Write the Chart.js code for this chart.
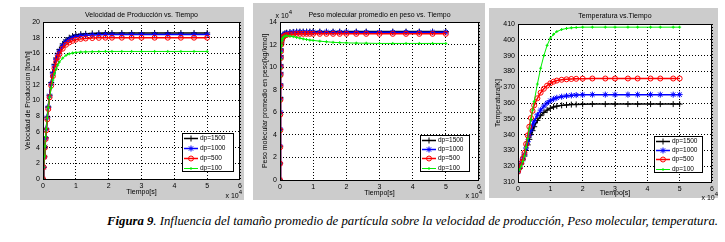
<!DOCTYPE html>
<html>
<head>
<meta charset="utf-8">
<script src="https://cdn.jsdelivr.net/npm/chart.js@4.4.0/dist/chart.umd.min.js"></script>
<style>
body { margin: 0; width: 725px; height: 242px; background: #fff; position: relative; overflow: hidden; }
.marco { position: absolute; background: #cccccc; }
.lienzo { position: absolute; top: 0; }
#caption { position: absolute; left: 107px; top: 215px; font: italic 12px "Liberation Serif", "DejaVu Serif", serif; line-height: 12px; white-space: nowrap; transform-origin: 0 0; color: #000; }
</style>
</head>
<body>
<div class="marco" style="left:20px;top:7px;width:224px;height:193px"></div>
<div class="marco" style="left:253px;top:3px;width:232px;height:197px"></div>
<div class="marco" style="left:489px;top:8px;width:229px;height:190px"></div>

<div class="lienzo" style="left:20px"><canvas id="graf1" width="225" height="205"></canvas></div>
<div class="lienzo" style="left:253px"><canvas id="graf2" width="235" height="205"></canvas></div>
<div class="lienzo" style="left:489px"><canvas id="graf3" width="236" height="205"></canvas></div>

<div id="caption"><b>Figura 9</b>. Influencia del tamaño promedio de partícula sobre la velocidad de producción, Peso molecular, temperatura.</div>

<script>
// etiquetas de la leyenda (igual en los tres graficos)
var leyenda = ['dp=1500', 'dp=1000', 'dp=500', 'dp=100'];

// Velocidad de produccion [ton/h] vs tiempo (x 10^4 s)
var tiempoVel = [0, 0.02, 0.04, 0.06, 0.08, 0.1, 0.13, 0.16, 0.2, 0.25, 0.3, 0.35, 0.4, 0.45, 0.5, 0.6, 0.7, 0.8, 0.9, 1.0, 1.15, 1.3, 1.5, 1.7, 1.9, 2.1, 2.4, 2.7, 3.0, 3.4, 3.8, 4.2, 4.6, 5.0];
var vel1500 = [0, 1.5, 2.9, 4.1, 5.3, 6.4, 7.9, 9.2, 10.7, 12.3, 13.6, 14.6, 15.4, 16.0, 16.5, 17.2, 17.7, 18.0, 18.2, 18.35, 18.45, 18.5, 18.55, 18.58, 18.6, 18.6, 18.6, 18.6, 18.6, 18.6, 18.6, 18.6, 18.6, 18.6];
var vel1000 = [0, 1.5, 2.8, 4.1, 5.2, 6.3, 7.8, 9.1, 10.6, 12.1, 13.4, 14.4, 15.2, 15.8, 16.3, 17.0, 17.5, 17.8, 18.0, 18.15, 18.25, 18.3, 18.35, 18.38, 18.4, 18.4, 18.4, 18.4, 18.4, 18.4, 18.4, 18.4, 18.4, 18.4];
var vel500 = [0, 1.5, 2.8, 4.0, 5.1, 6.2, 7.6, 8.9, 10.4, 11.9, 13.1, 14.1, 14.9, 15.5, 15.9, 16.6, 17.1, 17.4, 17.6, 17.75, 17.85, 17.9, 17.95, 17.98, 18.0, 18.0, 18.0, 18.0, 18.0, 18.0, 18.0, 18.0, 18.0, 18.0];
var vel100 = [0, 1.5, 2.9, 4.2, 5.4, 6.4, 7.8, 9.1, 10.4, 11.6, 12.6, 13.4, 14.0, 14.5, 14.9, 15.4, 15.75, 15.95, 16.05, 16.12, 16.18, 16.2, 16.22, 16.24, 16.25, 16.25, 16.25, 16.25, 16.25, 16.25, 16.25, 16.25, 16.25, 16.25];

// Peso molecular promedio en peso (x 10^4 kg/kmol)
var tiempoPeso = [0, 0.0025, 0.005, 0.0075, 0.01, 0.0125, 0.015, 0.0175, 0.02, 0.025, 0.03, 0.04, 0.06, 0.08, 0.1, 0.15, 0.2, 0.3, 0.4, 0.5, 0.6, 0.7, 0.8, 0.9, 1.0, 1.2, 1.4, 1.6, 1.8, 2.0, 2.3, 2.6, 3.0, 3.4, 3.8, 4.2, 4.6, 5.0];
var peso1500 = [0, 1.5, 3.0, 4.5, 6.0, 7.3, 8.5, 9.5, 10.2, 11.0, 11.6, 12.2, 12.6, 12.8, 12.9, 13.0, 13.05, 13.1, 13.12, 13.15, 13.15, 13.15, 13.15, 13.15, 13.15, 13.15, 13.15, 13.15, 13.15, 13.15, 13.15, 13.15, 13.15, 13.15, 13.15, 13.15, 13.15, 13.15];
var peso1000 = [0, 1.5, 3.0, 4.5, 6.0, 7.2, 8.4, 9.4, 10.1, 10.9, 11.5, 12.1, 12.5, 12.75, 12.85, 12.95, 13.0, 13.05, 13.08, 13.1, 13.1, 13.1, 13.1, 13.1, 13.1, 13.1, 13.1, 13.1, 13.1, 13.1, 13.1, 13.1, 13.1, 13.1, 13.1, 13.1, 13.1, 13.1];
var peso500 = [0, 1.45, 2.9, 4.4, 5.8, 7.1, 8.3, 9.3, 10.0, 10.8, 11.4, 12.0, 12.4, 12.6, 12.7, 12.8, 12.85, 12.9, 12.92, 12.95, 12.95, 12.95, 12.95, 12.95, 12.95, 12.95, 12.95, 12.95, 12.95, 12.95, 12.95, 12.95, 12.95, 12.95, 12.95, 12.95, 12.95, 12.95];
var peso100 = [0, 1.45, 2.9, 4.3, 5.8, 7.0, 8.2, 9.2, 9.9, 10.7, 11.3, 11.9, 12.35, 12.55, 12.65, 12.75, 12.77, 12.75, 12.7, 12.63, 12.57, 12.5, 12.45, 12.4, 12.37, 12.3, 12.25, 12.2, 12.17, 12.15, 12.13, 12.12, 12.1, 12.1, 12.1, 12.1, 12.1, 12.1];

// Temperatura [K]
var tiempoTemp = [0, 0.05, 0.1, 0.15, 0.2, 0.25, 0.3, 0.35, 0.4, 0.45, 0.5, 0.6, 0.7, 0.8, 0.9, 1.0, 1.1, 1.2, 1.35, 1.5, 1.65, 1.8, 2.0, 2.3, 2.7, 3.0, 3.4, 3.7, 4.1, 4.4, 4.8, 5.0];
var temp1500 = [316.5, 318.5, 321.5, 324, 326.5, 330, 333.5, 337, 340, 342.5, 345, 349, 352, 354, 355.5, 356.7, 357.5, 358, 358.5, 358.8, 359, 359.1, 359.2, 359.3, 359.3, 359.3, 359.3, 359.3, 359.3, 359.3, 359.3, 359.3];
var temp1000 = [316.5, 319, 322, 324.5, 327.5, 331.5, 335.5, 339.5, 343, 346, 348.5, 352.5, 355.5, 358, 360, 361.5, 362.5, 363.3, 364, 364.5, 364.8, 365, 365.2, 365.3, 365.3, 365.3, 365.3, 365.3, 365.3, 365.3, 365.3, 365.3];
var temp500 = [316.5, 319, 322, 325, 328.5, 334, 339.5, 345, 350.5, 355, 358.5, 363, 366.5, 369, 371, 372.5, 373.5, 374.2, 374.7, 375, 375.2, 375.3, 375.4, 375.5, 375.5, 375.5, 375.5, 375.5, 375.5, 375.5, 375.5, 375.5];
var temp100 = [316.5, 318, 320, 323, 326.5, 332, 337.5, 343.5, 349.5, 355.5, 361, 372, 382, 390, 396.5, 401, 403.5, 405.2, 406.5, 407.2, 407.6, 407.8, 408, 408, 408, 408, 408, 408, 408, 408, 408, 408];

var fuente = '"Liberation Sans", Arial, sans-serif';

// estilo tipo matlab: k-+, b-*, r-o, g-.
var estilos = [
    { borderColor: '#000000', pointStyle: 'cross', pointRadius: 3, borderWidth: 1.5, order: 4 },
    { borderColor: '#0000ff', pointStyle: 'star', pointRadius: 3, borderWidth: 1.5, order: 3 },
    { borderColor: '#ff0000', pointStyle: 'circle', pointRadius: 2.5, borderWidth: 1.5, order: 2 },
    { borderColor: '#00ee00', pointStyle: 'cross', pointRadius: 1.5, borderWidth: 1, order: 1 }
];

function serie(t, valores, i) {
    var e = estilos[i];
    return {
        label: leyenda[i],
        data: t.map(function (x, k) { return { x: x, y: valores[k] }; }),
        borderColor: e.borderColor,
        backgroundColor: 'rgba(0,0,0,0)',
        pointBorderColor: e.borderColor,
        pointBackgroundColor: 'rgba(0,0,0,0)',
        pointStyle: e.pointStyle,
        pointRadius: e.pointRadius,
        pointBorderWidth: 1,
        borderWidth: e.borderWidth,
        tension: 0,
        fill: false,
        order: e.order
    };
}

function exponente(ctx, xDer, y) {
    ctx.save();
    ctx.fillStyle = '#000';
    ctx.textBaseline = 'alphabetic';
    ctx.font = '6px ' + fuente;
    var w4 = ctx.measureText('4').width;
    ctx.textAlign = 'right';
    ctx.fillText('4', xDer, y - 4);
    ctx.font = '7px ' + fuente;
    ctx.fillText('x 10', xDer - w4, y);
    ctx.restore();
}

// plugin: fondo blanco, caja, titulo, leyenda y exponentes
var estiloMatlab = {
    id: 'estiloMatlab',
    beforeDraw: function (chart) {
        var a = chart.chartArea, ctx = chart.ctx;
        ctx.save();
        ctx.fillStyle = '#ffffff';
        ctx.fillRect(a.left, a.top, a.right - a.left, a.bottom - a.top);
        ctx.restore();
    },
    afterDraw: function (chart) {
        var o = chart.options.plugins.estiloMatlab;
        var a = chart.chartArea, ctx = chart.ctx;
        ctx.save();
        ctx.strokeStyle = '#000';
        ctx.lineWidth = 1;
        ctx.strokeRect(Math.round(a.left) + 0.5, Math.round(a.top) + 0.5, Math.round(a.right - a.left) - 1, Math.round(a.bottom - a.top));
        // titulo
        ctx.fillStyle = '#000';
        ctx.font = '7px ' + fuente;
        ctx.textAlign = 'center';
        ctx.textBaseline = 'middle';
        ctx.fillText(o.titulo, (a.left + a.right) / 2, a.top - o.tituloDy);
        // leyenda
        var L = o.leyenda;
        var x = a.right - L.der - L.w, y = a.bottom - L.inf - L.h;
        ctx.fillStyle = '#fff';
        ctx.fillRect(x, y, L.w, L.h);
        ctx.strokeRect(Math.round(x) + 0.5, Math.round(y) + 0.5, L.w - 1, L.h - 1);
        var paso = (L.h - 9) / 3;
        chart.data.datasets.forEach(function (ds, i) {
            var cy = Math.round(y + 4.5 + i * paso) + 0.5;
            ctx.strokeStyle = ds.borderColor;
            ctx.lineWidth = ds.borderWidth;
            ctx.beginPath();
            ctx.moveTo(x + 2, cy);
            ctx.lineTo(x + 16, cy);
            ctx.stroke();
            ctx.lineWidth = 1;
            ctx.fillStyle = 'rgba(0,0,0,0)';
            Chart.helpers.drawPoint(ctx, { pointStyle: ds.pointStyle, radius: ds.pointRadius, rotation: 0, borderWidth: 1 }, x + 9, cy);
            ctx.fillStyle = '#000';
            ctx.font = '6.5px ' + fuente;
            ctx.textAlign = 'left';
            ctx.fillText(ds.label, x + 18, cy);
        });
        ctx.restore();
        o.exponentes.forEach(function (p) {
            exponente(ctx, p.lado === 'izq' ? a.left + p.dx : a.right + p.dx, p.lado === 'izq' ? a.top + p.dy : p.dy);
        });
    }
};

function crearGrafico(id, cfg) {
    var ctx = document.getElementById(id).getContext('2d');
    return new Chart(ctx, {
        type: 'line',
        data: { datasets: cfg.datasets },
        plugins: [estiloMatlab],
        options: {
            responsive: false,
            animation: false,
            events: [],
            layout: { padding: { left: 0, top: cfg.areaTop, right: cfg.padDer, bottom: 0 } },
            plugins: {
                legend: { display: false },
                title: { display: false },
                tooltip: { enabled: false },
                estiloMatlab: cfg.extra
            },
            scales: {
                x: {
                    type: 'linear',
                    min: 0, max: 6,
                    afterFit: function (s) { s.height = cfg.altoX; s.paddingLeft = 0; s.paddingRight = 0; },
                    ticks: { stepSize: 1, color: '#000', padding: 3, font: { size: 7, family: fuente } },
                    grid: { color: '#000', lineWidth: 1, drawTicks: false },
                    border: { display: false, dash: [1, 2] },
                    title: { display: true, text: 'Tiempo[s]', color: '#000', font: { size: 7, family: fuente }, padding: { top: 0, bottom: cfg.tituloXPad } }
                },
                y: {
                    min: cfg.yMin, max: cfg.yMax,
                    afterFit: function (s) { s.width = cfg.anchoY; s.paddingTop = 0; s.paddingBottom = 0; },
                    ticks: { stepSize: cfg.yPaso, color: '#000', padding: 3, font: { size: 7, family: fuente } },
                    grid: { color: '#000', lineWidth: 1, drawTicks: false },
                    border: { display: false, dash: [1, 2] },
                    title: { display: true, text: cfg.tituloY, color: '#000', font: { size: 7, family: fuente }, padding: { top: cfg.tituloYPad, bottom: 0 } }
                }
            }
        }
    });
}

crearGrafico('graf1', {
    datasets: [serie(tiempoVel, vel1500, 0), serie(tiempoVel, vel1000, 1), serie(tiempoVel, vel500, 2), serie(tiempoVel, vel100, 3)],
    areaTop: 22, padDer: 2, altoX: 26, anchoY: 23,
    yMin: 0, yMax: 20, yPaso: 2,
    tituloY: 'Velocidad de Produccion [ton/h]', tituloYPad: 4, tituloXPad: 9,
    extra: {
        titulo: 'Velocidad de Producción vs. Tiempo', tituloDy: 7,
        leyenda: { w: 52, h: 39, der: 6, inf: 7 },
        exponentes: [{ lado: 'der', dx: 2, dy: 198 }]
    }
});

crearGrafico('graf2', {
    datasets: [serie(tiempoPeso, peso1500, 0), serie(tiempoPeso, peso1000, 1), serie(tiempoPeso, peso500, 2), serie(tiempoPeso, peso100, 3)],
    areaTop: 22, padDer: 9, altoX: 25, anchoY: 27,
    yMin: 0, yMax: 14, yPaso: 2,
    tituloY: 'Peso molecular promedio en peso[kg/kmol]', tituloYPad: 8, tituloXPad: 8,
    extra: {
        titulo: 'Peso molecular promedio en peso vs. Tiempo', tituloDy: 7,
        leyenda: { w: 50, h: 37, der: 9, inf: 8 },
        exponentes: [{ lado: 'izq', dx: 12, dy: -4 }, { lado: 'der', dx: 3, dy: 198 }]
    }
});

crearGrafico('graf3', {
    datasets: [serie(tiempoTemp, temp1500, 0), serie(tiempoTemp, temp1000, 1), serie(tiempoTemp, temp500, 2), serie(tiempoTemp, temp100, 3)],
    areaTop: 24, padDer: 13, altoX: 23, anchoY: 29,
    yMin: 310, yMax: 410, yPaso: 10,
    tituloY: 'Temperatura[K]', tituloYPad: 5, tituloXPad: 8,
    extra: {
        titulo: 'Temperatura vs.Tiempo', tituloDy: 8,
        leyenda: { w: 49, h: 37, der: 9, inf: 9 },
        exponentes: [{ lado: 'der', dx: 6, dy: 200 }]
    }
});

// ajustar el ancho del pie de figura
var pie = document.getElementById('caption');
var ancho = pie.getBoundingClientRect().width;
pie.style.transform = 'scaleX(' + (611 / ancho) + ')';
</script>
</body>
</html>
